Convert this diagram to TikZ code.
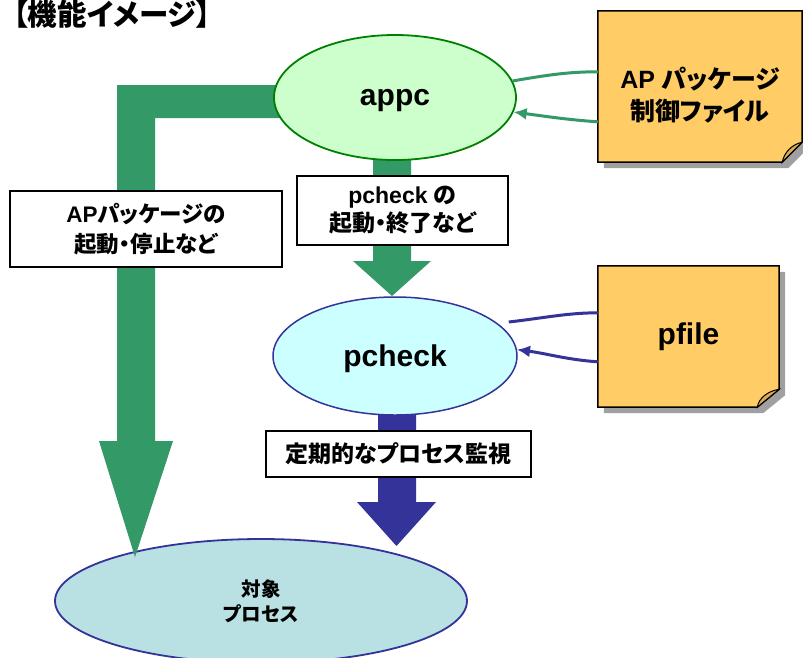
\documentclass[tikz,border=0pt]{standalone}
\usepackage{fontspec}
\setmainfont{Liberation Sans}
\newfontfamily\jp{Noto Sans CJK JP}[RawFeature=+palt]
\usetikzlibrary{shapes.geometric,arrows.meta,calc}
\definecolor{agreen}{HTML}{339966}
\definecolor{anavy}{HTML}{333399}
\definecolor{notey}{HTML}{FFCC66}
\definecolor{foldc}{HTML}{D9AA55}
\definecolor{shadowc}{HTML}{A0A0A0}
\definecolor{appcfill}{HTML}{CCFFCC}
\definecolor{appcline}{HTML}{008000}
\definecolor{pcfill}{HTML}{CCFFFF}
\definecolor{tgfill}{HTML}{B9E0E3}
\pgfdeclarelayer{bottom}
\pgfdeclarelayer{mid}
\pgfsetlayers{bottom,mid,main}
\begin{document}
\begin{tikzpicture}[x=1pt,y=-1pt,
  proc/.style={ellipse, inner sep=0pt, text depth=0pt, font=\bfseries\fontsize{30}{36}\selectfont},
  lbl/.style={draw=black, line width=1.5pt, fill=white, inner sep=0pt, align=center, font=\bfseries},
  notebox/.style={inner sep=0pt, align=center, font=\bfseries},
  notefill/.style={fill=notey, draw=black, line width=1.5pt, line join=miter},
  foldfill/.style={fill=foldc, draw=black, line width=1pt},
  shadowfill/.style={fill=shadowc},
  gline/.style={draw=agreen, line width=3pt},
  bline/.style={draw=anavy, line width=3pt},
  tipx/.style={-{Latex[length=13pt,width=12pt]}}
]
\useasboundingbox (0,0) rectangle (803,657);

% title
\node[anchor=west, inner sep=0pt, font=\bfseries\fontsize{29.5}{32}\selectfont\jp] (title) at (13,14) {【機能イメージ】};

% target process
\begin{pgfonlayer}{bottom}
\node[ellipse, draw=anavy, fill=tgfill, line width=1.8pt, minimum width=412pt, minimum height=124pt, inner sep=0pt, align=center, font=\bfseries\fontsize{19.5}{25}\selectfont\jp] (tgt) at (261,601) {対象\\プロセス};
\end{pgfonlayer}

% process ellipses
\node[proc, draw=appcline, fill=appcfill, line width=1.8pt, minimum width=242pt, minimum height=125pt] (appc) at (395,97.5) {appc};
\node[proc, draw=anavy, fill=pcfill, line width=1.5pt, minimum width=244pt, minimum height=118pt] (pcheck) at (395,356) {pcheck};

% block arrows (behind ellipses, above target)
\begin{pgfonlayer}{mid}
\fill[agreen] (117,85) -- (appc.center |- 0,85) -- (appc.center |- 0,118) -- (155,118) -- (155,441) -- (173,441) -- (135,557) -- (99,441) -- (117,441) -- cycle;
\fill[agreen] (373,150) -- (411,150) -- (411,261) -- (431,261) -- (392,296) -- (353,261) -- (373,261) -- cycle;
\fill[anavy] (378,405) -- (416,405) -- (416,502) -- (436,502) -- (396.5,546) -- (357,502) -- (378,502) -- cycle;
\end{pgfonlayer}

% labels on arrows
\node[lbl, minimum width=272pt, minimum height=76pt, font=\bfseries\fontsize{22.5}{30}\selectfont] (l1) at (146,229) {AP{\jp パッケージの}\\{\jp 起動・停止など}};
\node[lbl, minimum width=211pt, minimum height=69pt, font=\bfseries\fontsize{23}{28}\selectfont] (l2) at (402.5,210.5) {pcheck {\jp の}\\{\jp 起動・終了など}};
\node[lbl, minimum width=265pt, minimum height=46pt, font=\bfseries\fontsize{23}{26}\selectfont] (l3) at (398.5,454) {\jp 定期的なプロセス監視};

% notes
\node[notebox, minimum width=204pt, minimum height=151pt] (note1) at (700,86.5) {};
\node[notebox, font=\bfseries\fontsize{25}{32}\selectfont] (note1t) at ($(note1.center)+(0,9)$) {AP {\jp パッケージ}\\{\jp 制御ファイル}};
\node[notebox, minimum width=181pt, minimum height=141pt, font=\bfseries\fontsize{30}{36}\selectfont] (note2) at (688.5,336.5) {pfile};

\begin{pgfonlayer}{mid}
\fill[shadowfill] ($(note1.north west)+(6,6)$) -- ($(note1.north east)+(6,6)$) -- ($(note1.south east)+(6,-14)$) -- ($(note1.south east)+(-14,6)$) -- ($(note1.south west)+(6,6)$) -- cycle;
\path[notefill] (note1.north west) -- (note1.north east) -- ($(note1.south east)+(0,-20)$) -- ($(note1.south east)+(-20,0)$) -- (note1.south west) -- cycle;
\path[foldfill] ($(note1.south east)+(-20,0)$) .. controls +(2,-10) and +(-10,2) .. ($(note1.south east)+(0,-20)$) -- cycle;
\fill[shadowfill] ($(note2.north west)+(6,6)$) -- ($(note2.north east)+(6,6)$) -- ($(note2.south east)+(6,-12)$) -- ($(note2.south east)+(-16,6)$) -- ($(note2.south west)+(6,6)$) -- cycle;
\path[notefill] (note2.north west) -- (note2.north east) -- ($(note2.south east)+(0,-18)$) -- ($(note2.south east)+(-22,0)$) -- (note2.south west) -- cycle;
\path[foldfill] ($(note2.south east)+(-22,0)$) .. controls +(2,-10) and +(-11,2) .. ($(note2.south east)+(0,-18)$) -- cycle;
\end{pgfonlayer}

% connectors
\coordinate (n1a) at ($(note1.north west)+(0,61)$);
\coordinate (n1b) at ($(note1.north west)+(0,111)$);
\draw[gline] (appc.8) .. controls +(35,-6) and +(-30,0) .. (n1a);
\draw[gline, tipx] (n1b) .. controls +(-30,-2) and +(30,4) .. (appc.-7);

\coordinate (pst) at ($(pcheck.east)+(-9,-34)$);
\coordinate (n2a) at ($(note2.north west)+(0,47)$);
\coordinate (n2b) at ($(note2.north west)+(0,96)$);
\draw[bline] (pst) .. controls +(35,-4) and +(-30,0) .. (n2a);
\draw[bline, tipx] (n2b) .. controls +(-30,-2) and +(30,4) .. (pcheck.3);
\end{tikzpicture}
\end{document}
